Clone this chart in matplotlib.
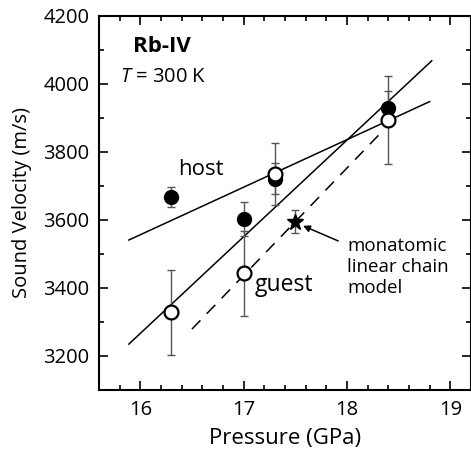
import numpy as np
import matplotlib
matplotlib.use("Agg")
import matplotlib.pyplot as plt
from matplotlib.ticker import MultipleLocator

plt.rcParams['font.family'] = ['Open Sans', 'DejaVu Sans']
plt.rcParams['mathtext.fontset'] = 'custom'
plt.rcParams['mathtext.it'] = 'Open Sans:italic'

# host (filled) and guest (open) sound velocities
host_p = [16.3, 17.0, 17.3, 18.4]
host_v = [3667, 3603, 3721, 3929]
host_err = [30, 50, 45, 50]

guest_p = [16.3, 17.0, 17.3, 18.4]
guest_v = [3328, 3443, 3735, 3894]
guest_err = [125, 124, 90, 130]

# monatomic linear chain model point
model_p = [17.5]
model_v = [3595]
model_err = [33]

# fit lines (endpoints)
host_fit_p = [15.89, 18.80]
host_fit_v = [3541, 3948]
guest_fit_p = [15.89, 18.82]
guest_fit_v = [3235, 4068]
model_fit_p = [16.5, 18.34]
model_fit_v = [3279, 3860]

fig = plt.figure(figsize=(4.71, 4.54), dpi=100)
ax = fig.add_axes([0.21, 0.141, 0.79, 0.824])

ax.plot(host_fit_p, host_fit_v, color='black', lw=1.1)
ax.plot(guest_fit_p, guest_fit_v, color='black', lw=1.1)
ax.plot(model_fit_p, model_fit_v, color='black', lw=1.1, dashes=(8, 6))

ax.errorbar(guest_p, guest_v, yerr=guest_err, fmt='none', ecolor='#555555',
            elinewidth=1, capsize=3, capthick=1)
ax.errorbar(host_p, host_v, yerr=host_err, fmt='none', ecolor='#555555',
            elinewidth=1, capsize=3, capthick=1)
ax.errorbar(model_p, model_v, yerr=model_err, fmt='none', ecolor='#555555',
            elinewidth=1, capsize=3, capthick=1)

ax.plot(host_p, host_v, 'o', ms=10, mfc='black', mec='black', zorder=5)
ax.plot(guest_p, guest_v, 'o', ms=10, mfc='white', mec='black', mew=1.6, zorder=6)
ax.plot(model_p, model_v, '*', ms=12, color='black', zorder=6)

ax.annotate('', xy=(17.55, 3586), xytext=(17.94, 3535),
            arrowprops=dict(arrowstyle='-|>', color='black', lw=1.1,
                            mutation_scale=10))
ax.text(18.0, 3462, 'monatomic\nlinear chain\nmodel', fontsize=13.5,
        va='center', ha='left', linespacing=1.2)

ax.text(16.59, 3747, 'host', fontsize=16, ha='center', va='center')
ax.text(17.39, 3409, 'guest', fontsize=16.5, ha='center', va='center')
ax.text(15.93, 4110, 'Rb-IV', fontsize=16, fontweight='bold', va='center')
ax.text(15.8, 4020, '$T$ = 300 K', fontsize=14.5, va='center')

ax.set_xlim(15.6, 19.2)
ax.set_ylim(3100, 4200)
ax.xaxis.set_major_locator(MultipleLocator(1))
ax.xaxis.set_minor_locator(MultipleLocator(0.2))
ax.yaxis.set_major_locator(MultipleLocator(200))
ax.yaxis.set_minor_locator(MultipleLocator(100))
ax.tick_params(which='both', direction='in', top=True, right=True, width=1.2)
ax.tick_params(which='major', length=6.5, labelsize=14.5, pad=7)
ax.tick_params(which='minor', length=3.5)
ax.set_yticks([3200, 3400, 3600, 3800, 4000, 4200])
for s in ax.spines.values():
    s.set_linewidth(1.5)

ax.set_xlabel('Pressure (GPa)', fontsize=16, labelpad=6)
ax.set_ylabel('Sound Velocity (m/s)', fontsize=14.5, labelpad=8)

fig.savefig('out.png', dpi=100)
